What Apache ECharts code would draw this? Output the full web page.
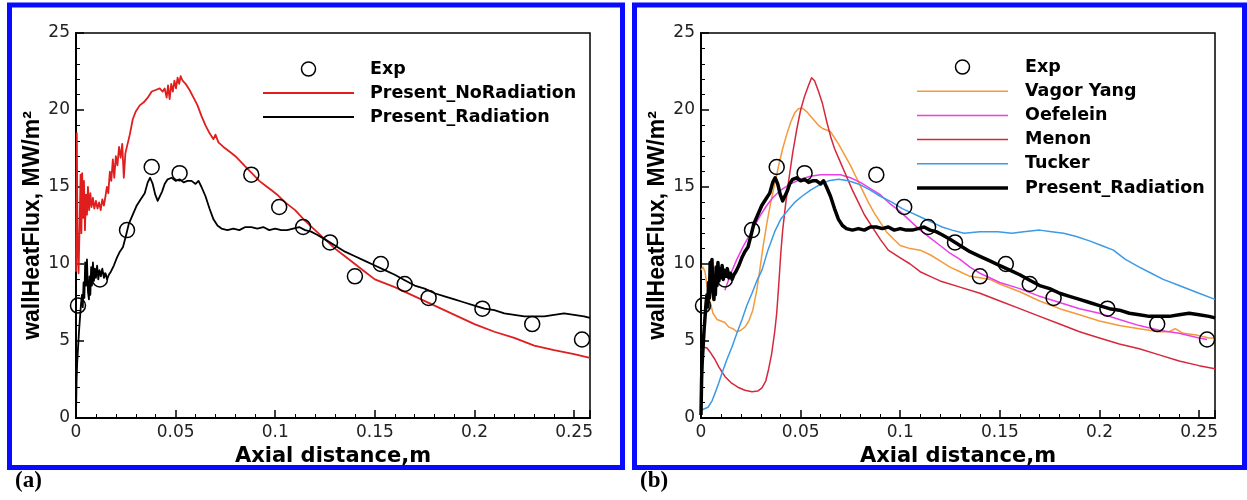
<!DOCTYPE html>
<html>
<head>
<meta charset="utf-8">
<script src="https://cdn.jsdelivr.net/npm/echarts@6/dist/echarts.min.js"></script>
<style>
  html, body { margin: 0; padding: 0; background: #fff; }
  #chart { width: 1247px; height: 500px; }
</style>
</head>
<body>
<div id="chart"></div>
<script>
// Axial distance (m) and wall heat flux (MW/m^2)

const expX = [0.001, 0.012, 0.0256, 0.038, 0.052, 0.088, 0.102, 0.114, 0.1275, 0.140, 0.153, 0.165, 0.177, 0.204, 0.229, 0.254];
const expY = [7.3, 9.0, 12.2, 16.3, 15.9, 15.8, 13.7, 12.4, 11.4, 9.2, 10.0, 8.7, 7.8, 7.1, 6.1, 5.1];

const presentNoRadiation = [
  [0.0000, 9.5], [0.0004, 18.5], [0.0008, 11.0], [0.0013, 9.4], [0.0018, 12.5], [0.0023, 15.8], [0.0027, 12.0],
  [0.0031, 15.9], [0.0036, 13.0], [0.0040, 15.4], [0.0045, 12.2], [0.0050, 14.5], [0.0055, 13.2], [0.0060, 15.0],
  [0.0066, 13.5], [0.0072, 14.6], [0.0078, 13.7], [0.0085, 14.3], [0.0092, 13.6], [0.0100, 14.1], [0.0108, 13.6],
  [0.0116, 14.0], [0.0124, 13.5], [0.0132, 14.2], [0.0140, 13.8], [0.0148, 14.4], [0.0155, 15.0], [0.0162, 14.6],
  [0.0170, 16.0], [0.0177, 15.4], [0.0185, 16.8], [0.0192, 15.6], [0.0200, 17.0], [0.0208, 16.4], [0.0216, 17.6],
  [0.0224, 16.9], [0.0232, 17.8], [0.0240, 15.6], [0.0248, 17.2], [0.0258, 17.3], [0.0270, 18.4], [0.0285, 19.4],
  [0.0300, 19.9], [0.0320, 20.3], [0.0340, 20.5], [0.0360, 20.8], [0.0380, 21.2], [0.0400, 21.3], [0.0420, 21.4],
  [0.0435, 21.2], [0.0445, 21.4], [0.0455, 20.8], [0.0462, 21.6], [0.0470, 20.7], [0.0478, 21.7], [0.0486, 21.2],
  [0.0494, 21.9], [0.0502, 21.4], [0.0510, 22.1], [0.0518, 21.7], [0.0525, 22.2], [0.0535, 21.9], [0.0550, 21.7],
  [0.0570, 21.3], [0.0590, 20.8], [0.0610, 20.3], [0.0630, 19.6], [0.0650, 19.0], [0.0670, 18.5], [0.0690, 18.1],
  [0.0700, 18.4], [0.0715, 17.9], [0.0740, 17.6], [0.0770, 17.3], [0.0800, 17.0], [0.0830, 16.6], [0.0860, 16.2],
  [0.0890, 15.8], [0.0920, 15.4], [0.0950, 15.1], [0.0980, 14.8], [0.1010, 14.5], [0.1050, 14.0], [0.1100, 13.5],
  [0.1150, 12.8], [0.1200, 12.2], [0.1250, 11.6], [0.1300, 11.0], [0.1350, 10.5], [0.1400, 10.0], [0.1450, 9.5],
  [0.1500, 9.0], [0.1600, 8.5], [0.1700, 7.9], [0.1800, 7.3], [0.1900, 6.7], [0.2000, 6.1], [0.2100, 5.6],
  [0.2200, 5.2], [0.2300, 4.7], [0.2400, 4.4], [0.2500, 4.15], [0.2580, 3.9]
];

const presentRadiation = [
  [0.0000, 0.2], [0.0003, 2.5], [0.0006, 3.6], [0.0010, 4.5], [0.0015, 5.6], [0.0020, 6.5], [0.0025, 7.4],
  [0.0030, 8.0], [0.0034, 7.2], [0.0038, 8.8], [0.0042, 7.8], [0.0046, 10.1], [0.0050, 8.6], [0.0055, 10.3],
  [0.0060, 8.2], [0.0065, 7.7], [0.0068, 9.2], [0.0072, 8.0], [0.0076, 9.8], [0.0080, 8.6], [0.0085, 10.1],
  [0.0090, 8.9], [0.0095, 9.7], [0.0100, 9.1], [0.0106, 9.9], [0.0112, 9.0], [0.0118, 9.6], [0.0125, 9.2],
  [0.0132, 9.7], [0.0140, 9.1], [0.0148, 9.4], [0.0156, 9.0], [0.0165, 9.3], [0.0175, 9.5], [0.0190, 9.9],
  [0.0205, 10.4], [0.0220, 10.8], [0.0236, 11.1], [0.0250, 11.8], [0.0265, 12.6], [0.0285, 13.2], [0.0305, 13.8],
  [0.0325, 14.2], [0.0345, 14.6], [0.0360, 15.3], [0.0372, 15.6], [0.0385, 15.2], [0.0398, 14.5], [0.0410, 14.1],
  [0.0420, 14.2], [0.0432, 14.7], [0.0445, 15.2], [0.0460, 15.5], [0.0480, 15.6], [0.0500, 15.4], [0.0520, 15.5],
  [0.0540, 15.3], [0.0560, 15.4], [0.0580, 15.4], [0.0600, 15.2], [0.0615, 15.4], [0.0630, 15.0], [0.0650, 14.4],
  [0.0670, 13.6], [0.0690, 12.9], [0.0710, 12.5], [0.0730, 12.3], [0.0760, 12.2], [0.0790, 12.3], [0.0820, 12.2],
  [0.0850, 12.4], [0.0880, 12.4], [0.0910, 12.3], [0.0940, 12.4], [0.0970, 12.2], [0.1000, 12.3], [0.1030, 12.2],
  [0.1060, 12.2], [0.1090, 12.3], [0.1120, 12.4], [0.1150, 12.2], [0.1180, 12.1], [0.1210, 11.9], [0.1250, 11.6],
  [0.1300, 11.2], [0.1350, 10.8], [0.1400, 10.5], [0.1450, 10.2], [0.1500, 9.9], [0.1550, 9.6], [0.1600, 9.3],
  [0.1650, 8.95], [0.1700, 8.6], [0.1750, 8.4], [0.1800, 8.1], [0.1850, 7.9], [0.1900, 7.7], [0.1950, 7.5],
  [0.2000, 7.3], [0.2050, 7.1], [0.2100, 7.0], [0.2150, 6.8], [0.2200, 6.7], [0.2250, 6.6], [0.2300, 6.6],
  [0.2350, 6.6], [0.2400, 6.7], [0.2450, 6.8], [0.2500, 6.7], [0.2550, 6.6], [0.2580, 6.5]
];

const vagorYang = [
  [0.0000, 9.6], [0.0010, 9.8], [0.0020, 9.5], [0.0030, 8.6], [0.0045, 7.6], [0.0060, 6.8], [0.0080, 6.4],
  [0.0100, 6.3], [0.0120, 6.2], [0.0140, 5.9], [0.0160, 5.8], [0.0180, 5.6], [0.0200, 5.7], [0.0220, 5.9],
  [0.0240, 6.3], [0.0260, 7.0], [0.0280, 8.3], [0.0295, 9.6], [0.0310, 11.0], [0.0330, 12.6], [0.0350, 14.0],
  [0.0370, 15.2], [0.0390, 16.4], [0.0410, 17.5], [0.0430, 18.4], [0.0450, 19.2], [0.0470, 19.8], [0.0490, 20.1],
  [0.0510, 20.1], [0.0530, 19.9], [0.0550, 19.6], [0.0570, 19.3], [0.0590, 19.0], [0.0610, 18.8], [0.0630, 18.7],
  [0.0650, 18.6], [0.0670, 18.2], [0.0690, 17.8], [0.0720, 17.1], [0.0750, 16.4], [0.0780, 15.6], [0.0810, 14.8],
  [0.0840, 14.0], [0.0870, 13.3], [0.0900, 12.7], [0.0930, 12.1], [0.0960, 11.7], [0.1000, 11.2], [0.1050, 11.0],
  [0.1100, 10.9], [0.1150, 10.6], [0.1200, 10.2], [0.1250, 9.8], [0.1300, 9.5], [0.1350, 9.2], [0.1400, 9.1],
  [0.1450, 9.0], [0.1500, 8.7], [0.1600, 8.2], [0.1700, 7.6], [0.1800, 7.1], [0.1900, 6.7], [0.2000, 6.3],
  [0.2100, 6.0], [0.2200, 5.8], [0.2300, 5.6], [0.2350, 5.6], [0.2380, 5.8], [0.2420, 5.5], [0.2480, 5.4],
  [0.2550, 5.2], [0.2580, 5.2]
];

const oefelein = [
  [0.0120, 8.3], [0.0150, 9.4], [0.0180, 10.3], [0.0210, 11.1], [0.0240, 11.8], [0.0270, 12.5], [0.0300, 13.2],
  [0.0330, 13.8], [0.0360, 14.3], [0.0400, 14.8], [0.0450, 15.2], [0.0500, 15.5], [0.0550, 15.7], [0.0600, 15.8],
  [0.0650, 15.8], [0.0700, 15.8], [0.0750, 15.6], [0.0800, 15.3], [0.0850, 14.9], [0.0900, 14.5], [0.0950, 13.9],
  [0.1000, 13.4], [0.1050, 12.8], [0.1100, 12.2], [0.1150, 11.7], [0.1200, 11.2], [0.1250, 10.7], [0.1300, 10.3],
  [0.1350, 9.8], [0.1400, 9.4], [0.1500, 8.8], [0.1600, 8.4], [0.1700, 7.9], [0.1800, 7.5], [0.1900, 7.1],
  [0.2000, 6.8], [0.2100, 6.4], [0.2200, 6.0], [0.2300, 5.7], [0.2400, 5.5], [0.2500, 5.2], [0.2540, 5.1]
];

const menon = [
  [0.0000, 4.4], [0.0015, 4.6], [0.0030, 4.55], [0.0050, 4.2], [0.0070, 3.8], [0.0090, 3.3], [0.0120, 2.7],
  [0.0150, 2.3], [0.0185, 2.0], [0.0220, 1.8], [0.0256, 1.7], [0.0285, 1.75], [0.0306, 1.95], [0.0325, 2.4],
  [0.0340, 3.2], [0.0355, 4.2], [0.0370, 5.6], [0.0380, 6.8], [0.0390, 8.6], [0.0400, 10.6], [0.0410, 12.2],
  [0.0425, 13.9], [0.0440, 15.4], [0.0460, 17.2], [0.0480, 18.7], [0.0500, 20.0], [0.0520, 20.9], [0.0540, 21.6],
  [0.0555, 22.1], [0.0570, 21.9], [0.0590, 21.2], [0.0610, 20.4], [0.0630, 19.3], [0.0650, 18.3], [0.0670, 17.5],
  [0.0700, 16.6], [0.0730, 15.7], [0.0760, 14.8], [0.0790, 14.0], [0.0820, 13.2], [0.0860, 12.4], [0.0900, 11.6],
  [0.0940, 10.9], [0.1000, 10.4], [0.1050, 10.0], [0.1100, 9.5], [0.1150, 9.2], [0.1200, 8.9], [0.1300, 8.5],
  [0.1400, 8.1], [0.1500, 7.6], [0.1600, 7.1], [0.1700, 6.6], [0.1800, 6.1], [0.1900, 5.6], [0.2000, 5.2],
  [0.2100, 4.8], [0.2200, 4.5], [0.2300, 4.1], [0.2400, 3.7], [0.2500, 3.4], [0.2580, 3.2]
];

const tucker = [
  [0.0000, 0.5], [0.0035, 0.7], [0.0055, 1.1], [0.0070, 1.6], [0.0090, 2.3], [0.0105, 2.9], [0.0130, 3.8],
  [0.0155, 4.6], [0.0180, 5.5], [0.0206, 6.4], [0.0230, 7.3], [0.0256, 8.1], [0.0280, 8.9], [0.0306, 9.6],
  [0.0336, 10.9], [0.0370, 12.1], [0.0400, 12.9], [0.0437, 13.5], [0.0470, 14.0], [0.0507, 14.4], [0.0550, 14.8],
  [0.0590, 15.1], [0.0640, 15.4], [0.0690, 15.5], [0.0740, 15.4], [0.0790, 15.2], [0.0850, 14.8], [0.0900, 14.4],
  [0.0960, 14.0], [0.1010, 13.6], [0.1060, 13.3], [0.1110, 13.0], [0.1160, 12.7], [0.1210, 12.4], [0.1260, 12.2],
  [0.1320, 12.0], [0.1400, 12.1], [0.1490, 12.1], [0.1560, 12.0], [0.1620, 12.1], [0.1700, 12.2], [0.1760, 12.1],
  [0.1820, 12.0], [0.1880, 11.8], [0.1950, 11.5], [0.2010, 11.2], [0.2070, 10.9], [0.2130, 10.3], [0.2200, 9.8],
  [0.2260, 9.4], [0.2320, 9.0], [0.2400, 8.6], [0.2480, 8.2], [0.2580, 7.7]
];

const xTickLabels = ['0', '0.05', '0.1', '0.15', '0.2', '0.25'];
const yTickLabels = ['0', '5', '10', '15', '20', '25'];
const panelTags = ['(a)', '(b)'];

const expPoints = expX.map((x, i) => [x, expY[i]]);

// Panel layout
const X_MAX = 0.258;
const PLOT_TOP = 33, PLOT_W = 514, PLOT_H = 385;
const panels = [
  {
    plotLeft: 76,
    frame: { x: 9.5, y: 5, width: 613, height: 462.5 },
    tag: { x: 15, y: 470 },
    legend: { x0: 263, x1: 354, textX: 370, y0: 69, dy: 24 },
    series: [
      { name: 'Exp', kind: 'exp', data: expPoints },
      { name: 'Present_NoRadiation', kind: 'line', data: presentNoRadiation, color: '#e01e1e', width: 1.8 },
      { name: 'Present_Radiation', kind: 'line', data: presentRadiation, color: '#000000', width: 1.8 }
    ]
  },
  {
    plotLeft: 701,
    frame: { x: 634.5, y: 5, width: 610, height: 462.5 },
    tag: { x: 640, y: 470 },
    legend: { x0: 917, x1: 1008, textX: 1025, y0: 67, dy: 24.2 },
    series: [
      { name: 'Exp', kind: 'exp', data: expPoints },
      { name: 'Vagor Yang', kind: 'line', data: vagorYang, color: '#f5993a', width: 1.5 },
      { name: 'Oefelein', kind: 'line', data: oefelein, color: '#ea3ee8', width: 1.5 },
      { name: 'Menon', kind: 'line', data: menon, color: '#d6283c', width: 1.5 },
      { name: 'Tucker', kind: 'line', data: tucker, color: '#3c9ae6', width: 1.5 },
      { name: 'Present_Radiation', kind: 'line', data: presentRadiation, color: '#000000', width: 3.5 }
    ]
  }
];

const tickFont = { color: '#222', fontFamily: 'DejaVu Sans', fontSize: 17 };

function xLabel(v) {
  const k = Math.round(v / 0.05);
  return Math.abs(v / 0.05 - k) < 1e-6 && k < xTickLabels.length ? xTickLabels[k] : '';
}
function yLabel(v) {
  const k = Math.round(v / 5);
  return yTickLabels[k] !== undefined ? yTickLabels[k] : '';
}

const grid = [], xAxis = [], yAxis = [], series = [], graphic = [];

panels.forEach((p, i) => {
  grid.push({
    left: p.plotLeft, top: PLOT_TOP, width: PLOT_W, height: PLOT_H,
    show: true, borderColor: '#000', borderWidth: 1.5, backgroundColor: 'transparent'
  });
  xAxis.push({
    gridIndex: i, type: 'value', min: 0, max: X_MAX, interval: 0.05,
    axisLine: { show: true, onZero: false, lineStyle: { color: '#000', width: 2 } },
    axisTick: { show: true, inside: true, length: 8, lineStyle: { color: '#000', width: 1.5 } },
    minorTick: { show: true, splitNumber: 5, length: 4, lineStyle: { color: '#000', width: 1 } },
    splitLine: { show: false },
    axisLabel: Object.assign({ margin: 6, formatter: xLabel, showMaxLabel: true }, tickFont),
    name: 'Axial distance,m', nameLocation: 'middle', nameGap: 21,
    nameTextStyle: { fontFamily: 'DejaVu Sans', fontWeight: 'bold', fontSize: 21, color: '#000' }
  });
  yAxis.push({
    gridIndex: i, type: 'value', min: 0, max: 25, interval: 5,
    axisLine: { show: true, onZero: false, lineStyle: { color: '#000', width: 2 } },
    axisTick: { show: true, inside: true, length: 8, lineStyle: { color: '#000', width: 1.5 } },
    minorTick: { show: true, splitNumber: 5, length: 4, lineStyle: { color: '#000', width: 1 } },
    splitLine: { show: false },
    axisLabel: Object.assign({ margin: 6, formatter: yLabel }, tickFont),
    name: 'wallHeatFlux, MW/m\u00B2', nameLocation: 'middle', nameGap: 30, nameRotate: 90,
    nameTextStyle: { fontFamily: 'Liberation Sans', fontWeight: 'bold', fontSize: 23, color: '#000' }
  });

  p.series.forEach(s => {
    if (s.kind === 'exp') {
      series.push({
        name: s.name, type: 'scatter', xAxisIndex: i, yAxisIndex: i, data: s.data,
        symbol: 'circle', symbolSize: 15, z: 5,
        itemStyle: { color: 'rgba(0,0,0,0)', borderColor: '#000', borderWidth: 1.5, opacity: 1 }
      });
    } else {
      series.push({
        name: s.name, type: 'line', xAxisIndex: i, yAxisIndex: i, data: s.data,
        showSymbol: false, symbol: 'none', clip: true,
        lineStyle: { color: s.color, width: s.width, join: 'round' }, itemStyle: { color: s.color }
      });
    }
  });

  // panel frame
  graphic.push({
    type: 'rect', silent: true, shape: p.frame,
    style: { fill: 'none', stroke: '#0a0aff', lineWidth: 5 }
  });
  // panel tag
  graphic.push({
    type: 'text', silent: true, x: p.tag.x, y: p.tag.y,
    style: { text: panelTags[i], fill: '#000', fontFamily: 'Liberation Serif', fontWeight: 'bold', fontSize: 23 }
  });
  // key
  const L = p.legend;
  p.series.forEach((s, k) => {
    const y = L.y0 + k * L.dy;
    if (s.kind === 'exp') {
      graphic.push({
        type: 'circle', silent: true, shape: { cx: (L.x0 + L.x1) / 2, cy: y, r: 7 },
        style: { fill: 'none', stroke: '#000', lineWidth: 1.5 }
      });
    } else {
      graphic.push({
        type: 'line', silent: true, shape: { x1: L.x0, y1: y, x2: L.x1, y2: y },
        style: { stroke: s.color, lineWidth: s.width }
      });
    }
    graphic.push({
      type: 'text', silent: true, x: L.textX, y: y,
      style: { text: s.name, fill: '#000', fontFamily: 'DejaVu Sans', fontWeight: 'bold', fontSize: 17.5, verticalAlign: 'middle' }
    });
  });
});

const chart = echarts.init(document.getElementById('chart'), null, { renderer: 'canvas' });
chart.setOption({
  animation: false,
  backgroundColor: '#fff',
  grid, xAxis, yAxis, series, graphic
});
</script>
</body>
</html>
